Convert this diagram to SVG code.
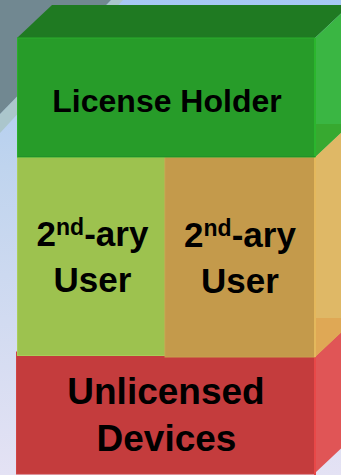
<svg xmlns="http://www.w3.org/2000/svg" width="341" height="475" viewBox="0 0 341 475">
  <defs>
    <linearGradient id="bg" x1="0" y1="0" x2="0" y2="1">
      <stop offset="0" stop-color="#a6c8f4"/>
      <stop offset="0.35" stop-color="#bfd4ee"/>
      <stop offset="1" stop-color="#e4e2f4"/>
    </linearGradient>
    <style>
      .lbl { font-family: "Liberation Sans", Arial, sans-serif; font-weight: bold; fill: #000; text-anchor: middle; }
    </style>
  </defs>

  <!-- background -->
  <rect x="0" y="0" width="341" height="475" fill="url(#bg)"/>
  <polygon points="111,0 123,0 0,133 0,114" fill="#abc6cc"/>
  <polygon points="0,0 111,0 0,114" fill="#718891"/>

  <!-- bottom box -->
  <g id="unlicensed-devices">
    <polygon points="315,352 350,319 350,440 315,473" fill="#e05556"/>
    <rect x="16.5" y="352" width="298.5" height="122" fill="#c43c3d" stroke="#d04444" stroke-width="1"/>
    <line x1="315" y1="352" x2="315" y2="475" stroke="#e84848" stroke-width="2"/>
    <text class="lbl" x="166" y="404" font-size="37">Unlicensed</text>
    <text class="lbl" x="166.5" y="451" font-size="37">Devices</text>
  </g>

  <!-- middle boxes -->
  <g id="secondary-box-side">
    <polygon points="315,157 350,124 350,324 315,357" fill="#dfb866"/>
    <polygon points="315,318 350,318 350,324 315,357" fill="#dfa855"/>
  </g>
  <g id="secondary-user-1">
    <rect x="17.5" y="157" width="147.5" height="198.5" fill="#9dc24f" stroke="#aacd5a" stroke-width="1"/>
    <text class="lbl" x="92.5" y="246" font-size="35">2<tspan font-size="23" dy="-11">nd</tspan><tspan dy="11">-ary</tspan></text>
    <text class="lbl" x="92.5" y="292" font-size="35">User</text>
  </g>
  <g id="secondary-user-2">
    <rect x="165" y="157" width="150" height="200" fill="#c49a4b" stroke="#c9a050" stroke-width="1"/>
    <line x1="315" y1="157" x2="315" y2="357" stroke="#e4b85c" stroke-width="2"/>
    <text class="lbl" x="240" y="247" font-size="35">2<tspan font-size="23" dy="-11">nd</tspan><tspan dy="11">-ary</tspan></text>
    <text class="lbl" x="240" y="293" font-size="35">User</text>
  </g>

  <!-- top box -->
  <g id="license-holder">
    <polygon points="17,38 52,5 350,5 315,38" fill="#1f7a22"/>
    <polygon points="315,38 350,5 350,124 315,157" fill="#3ab643"/>
    <polygon points="315,124 350,124 315,157" fill="#37a930"/>
    <rect x="17.5" y="38" width="297.5" height="119" fill="#279c29" stroke="#2aad2c" stroke-width="1"/>
    <line x1="315" y1="38" x2="315" y2="157" stroke="#2bb52d" stroke-width="2"/>
    <line x1="18" y1="156.5" x2="315" y2="156.5" stroke="#22922a" stroke-width="1"/>
    <text class="lbl" x="167" y="112" font-size="32">License Holder</text>
  </g>
</svg>
